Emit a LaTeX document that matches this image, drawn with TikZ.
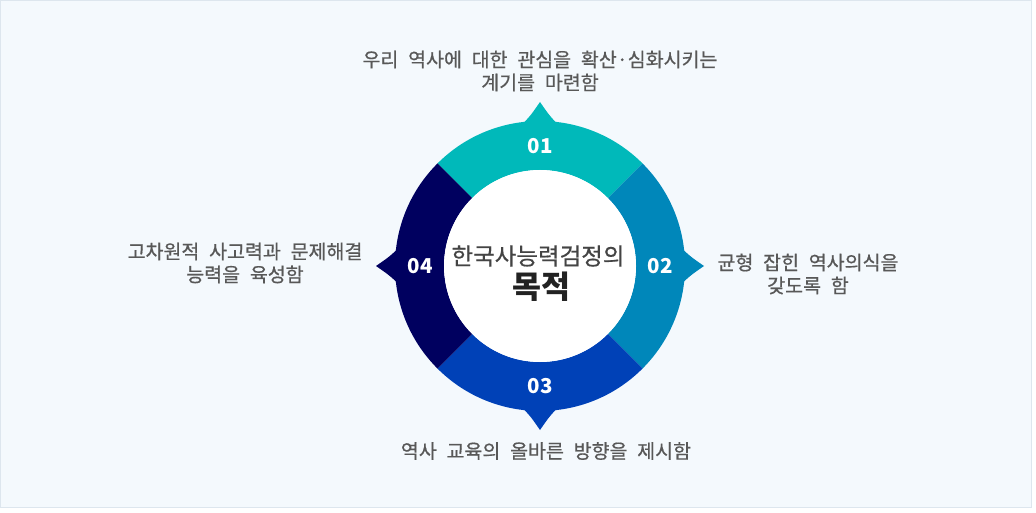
\documentclass[tikz,border=0pt]{standalone}
\usepackage{fontspec}
\setmainfont{Noto Sans CJK KR}
\newfontfamily\labfam{Noto Sans CJK KR}[FakeBold=0.6]
\newcommand\labfont{\labfam\fontsize{19.5}{23}\selectfont\spaceskip=0.5em\relax}
\definecolor{bgpanel}{HTML}{F4F9FD}
\definecolor{bdpanel}{HTML}{DDE6EE}
\definecolor{segA}{HTML}{00B9BA}
\definecolor{segB}{HTML}{0087BA}
\definecolor{segC}{HTML}{0041B7}
\definecolor{segD}{HTML}{00005F}
\definecolor{labgray}{HTML}{585858}
\definecolor{coregray}{HTML}{444444}
\definecolor{coredark}{HTML}{222222}
\begin{document}
\begin{tikzpicture}[x=1pt,y=1pt,
  lab/.style={text=labgray, font=\labfont, align=center, inner sep=0},
  num/.style={text=white, font=\bfseries\fontsize{20.5}{24}\selectfont, inner sep=0}]
\useasboundingbox (0,0) rectangle (1036,-513);
\fill[white] (0,0) rectangle (1036,-513);
\filldraw[fill=bgpanel, draw=bdpanel, line width=1pt] (0.5,-0.5) rectangle (1031.5,-507.5);
\begin{scope}[shift={(540,-266)}]
\foreach \a/\c in {90/segA,0/segB,270/segC,180/segD}{
  \fill[\c] (\a-45:145) arc[start angle=\a-45,end angle=\a+45,radius=145] -- (\a+45:96) arc[start angle=\a+45,end angle=\a-45,radius=96] -- cycle;
  \fill[\c] (\a-7.5:142) .. controls (\a-3.5:151) .. (\a:164) .. controls (\a+3.5:151) .. (\a+7.5:142) -- cycle;
}
\end{scope}
\node[circle, fill=white, minimum size=192pt, inner sep=0] (core) at (540,-266) {};
\node[text=coregray, font=\labfam\fontsize{23.5}{26}\selectfont, inner sep=0] (title1) at (538,-256) {한국사능력검정의};
\node[text=coredark, font=\bfseries\fontsize{31.5}{34}\selectfont, inner sep=0] (title2) at (541,-286.5) {목적};
\node[num] (n1) at (540,-146) {01};
\node[num] (n2) at (660,-266) {02};
\node[num] (n3) at (540,-386) {03};
\node[num] (n4) at (420,-266) {04};
\node[lab] (t1) at (540,-71) {우리 역사에 대한 관심을 확산·심화시키는\\계기를 마련함};
\node[lab] (t2) at (808,-274) {균형 잡힌 역사의식을\\갖도록 함};
\node[lab] (t3) at (546,-451) {역사 교육의 올바른 방향을 제시함};
\node[lab] (t4) at (245,-263) {고차원적 사고력과 문제해결\\능력을 육성함};
\end{tikzpicture}
\end{document}
